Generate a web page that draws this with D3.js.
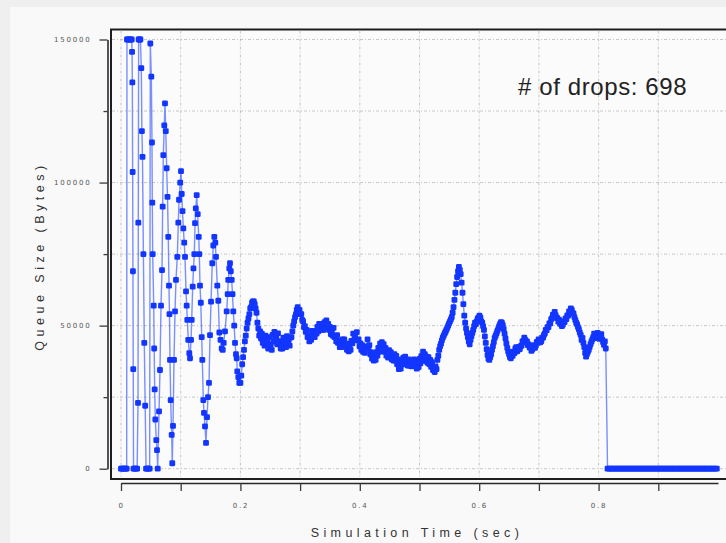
<!DOCTYPE html>
<html>
<head>
<meta charset="utf-8">
<script src="https://cdn.jsdelivr.net/npm/d3@7"></script>
<style>
body { margin: 0; background: #efefef; }
</style>
</head>
<body>
<div id="chart"></div>
<script>
// queue samples: time in ms, queue in thousands of bytes
var earlyTimeMs = [0,2,4,6,8,9.5, 10,12,14,16,18, 18.5,19,19.5,20,20.5, 21,23,25,27, 28.5,29, 29.5,31,32.5,
    34,35,36,37.5,39,40.5, 42,44,46,48,
    49.1,50.8,51.9,52.4,53.1,54.8,55.6,56.4,57.5,59.1,60.3,61.5,
    63.7,65.3,67,68.7,69.8,70.9,72.5,73.7,
    75,76.5,77.9,79.2,80.4,81.2,82.1,83.2,84.9,85.9,
    87.1,88.8,90.5,92.1,94.3,96,97.2,99.2,100.5,
    101.7,103,104.4,105.9,107.2,108.9,110,111.1,112.7,114.4,115.6,
    117.3,118.4,120.1,121.4,122.8,124,125.3,126.8,
    128.5,130.2,131.2,132.3,133.7,135.2,136.2,137.9,139,140.7,142.4,
    144.1,145.7,147.4,149.1,150.8,152.9,154.6,156.3,
    158,159.1,161.3,163,164.7,166.7,168.7,170.4,
    172,174.2,177,178.7,179.7,181.4,182.6,
    183.9,185.4,186.8,188.1,189.6,191,192.6,193.8,194.8,196.5,198.2];
var earlyQueueK = [0,0,0,0,0,0, 150,150,150,150,150, 145.7,135,103.7,69,34.8, 0,0,0,0, 23,86, 150,150,150,
    140,118,109,75,44,22, 0,0,0,0,
    148.6,137,114,93,75,57,42,27.7,17.2,10,6.5,0,
    20,34.5,57,69.4,91.6,109.6,120,127.7,
    118,105,95,81,64,54,38,24,11.8,1.9,
    15,38,55,66,74,86,94,100,104,
    96,90,84,79,74,62,57,52,45,40.4,38.6,
    45,52,63.6,70,75,85.8,91,95.6,
    89,81,75,64,58,46,38,24,19.5,14.8,9,
    18,25,30,46.7,58.4,71.8,78,81,
    79,74,64,58.7,47.6,45,42,41.5,
    44,48,55,61,66,70,71.8,
    69,66,61,55,50,44,40,38.6,34,32,30];

// from 0.2 s until the drop, one sample every 1.5 ms
var steadyStartMs = 200;
var steadyStepMs = 1.5;
var steadyQueueK = [30,32.5, 36.5,39, 41.5,44.5, 46.5,49, 51,52.5, 54,56, 56.5,58, 58.5,58.5, 57.5,56, 54.5,51,
    49,46.5, 48,45.5, 47.2,44, 46,43, 46.5,43.5, 44.5,42, 46,43, 43.5,41.5, 46.8,44.5, 47.8,45,
    45.5,43.5, 47.3,44.5, 44.5,42, 44,42, 45.8,43.5, 44.3,42.5, 46.3,44, 45,43, 45.8,46, 48,50,
    51.5,53, 54,55.5, 56.5,55, 55.5,54, 54,52, 51.5,49.5, 49.8,47.8, 48.5,46, 46.5,44.5, 46.2,45,
    48.2,46, 47.8,46, 48.2,47.2, 49.6,48, 50.6,48.8, 50.6,48.5, 49.6,48.5, 51.2,49.5, 51.8,49.5, 50.6,48.5,
    49.6,47, 48.2,46.5, 49.2,46, 46.2,44.5, 46.7,44, 44.7,42.5, 44.2,42.5, 45.2,43.3, 45.2,42.8, 43.2,41.5,
    43.7,41, 42.2,41.5, 44.7,43.8, 47.2,45, 46.7,45.2, 47.7,44.8, 45.2,42.8, 43.8,41.5, 43.2,40.8, 42.2,40.5,
    42.7,42, 45.2,42.3, 43.2,40, 40.7,38.5, 40.2,37.8, 39.4,38, 40.7,39.5, 42.2,40.8, 43.7,41.8, 44.2,41.8,
    43.5,40.8, 42.2,39.5, 40.7,38.8, 41.4,39, 40.7,38.2, 39.6,37.8, 40,37.8, 39.4,36.5, 37.7,34.8, 35.7,35,
    38.2,36.5, 38.8,37, 39.2,36.5, 38,36, 38.2,36, 37.7,35.8, 37.7,36, 38.2,35.8, 37.4,35, 36.7,35.5,
    38.4,36.8, 39.3,38, 40.9,38.5, 40,37.6, 39.2,37, 39,36.5, 38,35.6, 37.2,34.5, 35.7,33.8, 35.7,34.8,
    38,39.5, 41.5,42.8, 43.7,44.8, 45.8,46.5, 47.2,47.8, 48.5,49.2, 50,50.8, 51.5,52.2, 53,54.5, 56.5,59,
    61.5,64.5, 67,69, 70.5,69.5, 68,65, 61.5,57.5, 53.5,51, 49,47.5, 46,44.5, 43.5,45, 46.3,47.5,
    48.5,49.8, 51,50.5, 51.5,52.5, 52.8,53.5, 52.8,51.5, 51,49.8, 48.5,46.2, 44,41.8, 39.8,38.5, 38,39,
    40,41.5, 42.8,44.2, 45.7,46.5, 47.3,48.2, 49,49.8, 50.6,51.2, 51,50.2, 48.8,47.2, 45.5,43.8, 42.2,41,
    40,39, 38.6,39.8, 39.4,40.9, 40.4,42, 42.5,41, 41.5,42.6, 41.8,42.8, 43,44.5, 44.6,45.8, 45,44.2,
    44.5,43.2, 43.4,42.3, 42.6,41.2, 41.7,42.8, 43.2,42.2, 43.1,44.3, 44,45.2, 45,44.2, 44.6,45.8, 45.8,46.8,
    47.3,48.5, 48.4,49.5, 49.5,50.8, 50.8,52.2, 52.6,53.8, 53.6,54.8, 53.7,52.8, 52.6,51.4, 52,50.6, 51,49.8,
    50.3,51.5, 51.2,52.5, 52.3,53.6, 53.5,55, 54.8,56, 55.5,54.5, 54.2,53, 52,51, 50.4,49.5, 48.7,47.6,
    46.8,45, 45.7,44, 42.5,40.5, 39.2,40, 40.8,41.5, 42.5,43.5, 44.4,45.2, 46,47.2, 46.6,45.6, 46.5,47.5,
    46.6,45.4, 46.2,47, 45.2,44.2, 43.3,44.5, 42];

// after the drop the queue stays empty
var tailStartMs = 815;
var tailStepMs = 3;
var tailQueueK = [0,0,0,0,0,0,0,0,0,0, 0,0,0,0,0,0,0,0,0,0, 0,0,0,0,0,0,0,0,0,0,
    0,0,0,0,0,0,0,0,0,0, 0,0,0,0,0,0,0,0,0,0, 0,0,0,0,0,0,0,0,0,0, 0,0];

var yTickValues = [0, 25000, 50000, 75000, 100000, 125000, 150000];
var yLabelValues = [0, 50000, 100000, 150000];
var xTickValues = [0, 0.1, 0.2, 0.3, 0.4, 0.5, 0.6, 0.7, 0.8, 0.9];
var xLabelValues = [0, 0.2, 0.4, 0.6, 0.8];
var dropsText = "# of drops: 698";

function makeChart() {
    var width = 726, height = 543;
    var svg = d3.select("#chart").append("svg").attr("width", width).attr("height", height)
        .style("display", "block");

    svg.append("rect").attr("width", width).attr("height", height).attr("fill", "#efefef");
    svg.append("rect").attr("x", 10).attr("y", 7).attr("width", width - 10).attr("height", height - 7)
        .attr("fill", "#f9f9f9");

    var x = d3.scaleLinear().domain([0, 1]).range([121, 718]);
    var y = d3.scaleLinear().domain([0, 150000]).range([468.7, 39.5]);

    // frame
    svg.append("rect").attr("x", 111).attr("y", 29.5).attr("width", 640).attr("height", 449.5)
        .attr("fill", "#fbfbfb").attr("stroke", "#1e1e1e").attr("stroke-width", 2);

    // dashed grid
    var grid = svg.append("g").attr("stroke", "#b9b9b9").attr("stroke-width", 0.8)
        .attr("stroke-dasharray", "3,2,1,2");
    grid.selectAll(".gx").data(xTickValues).enter().append("line")
        .attr("x1", function(d) { return x(d); }).attr("x2", function(d) { return x(d); })
        .attr("y1", 30.5).attr("y2", 477.5);
    grid.selectAll(".gy").data(yTickValues).enter().append("line")
        .attr("y1", function(d) { return y(d); }).attr("y2", function(d) { return y(d); })
        .attr("x1", 112).attr("x2", 726);

    var isIn = function(list, v) {
        return list.some(function(a) { return Math.abs(a - v) < 1e-9; });
    };

    // y axis
    var yAxis = svg.append("g").attr("transform", "translate(107.5,0)")
        .call(d3.axisLeft(y).tickValues(yTickValues).tickSize(8).tickSizeOuter(0).tickPadding(8)
            .tickFormat(function(d) { return isIn(yLabelValues, d) ? d : ""; }));
    yAxis.selectAll(".tick line").attr("x2", function(d) { return isIn(yLabelValues, d) ? -8 : -4; });

    // x axis
    var xAxis = svg.append("g").attr("transform", "translate(0,483)")
        .call(d3.axisBottom(x).tickValues(xTickValues).tickSize(8).tickSizeOuter(0).tickPadding(12)
            .tickFormat(function(d) { return isIn(xLabelValues, d) ? String(d) : ""; }));

    [yAxis, xAxis].forEach(function(a) {
        a.select(".domain").attr("stroke", "#2a2a2a").attr("stroke-width", 1.6);
        a.selectAll(".tick line").attr("stroke", "#3a3a3a").attr("stroke-width", 1.3);
        a.selectAll("text").attr("fill", "#555").style("font-family", "DejaVu Sans, sans-serif")
            .style("font-size", "7px").style("letter-spacing", "1.8px");
    });

    // axis titles
    svg.append("text").attr("x", 417).attr("y", 537).attr("text-anchor", "middle")
        .style("font-family", "Liberation Sans, Arial, sans-serif").style("font-size", "12.5px")
        .style("letter-spacing", "4.4px").attr("fill", "#333")
        .text("Simulation Time (sec)");
    svg.append("text").attr("transform", "translate(44,256) rotate(-90)").attr("text-anchor", "middle")
        .style("font-family", "Liberation Sans, Arial, sans-serif").style("font-size", "12.5px")
        .style("letter-spacing", "4.5px").attr("fill", "#333")
        .text("Queue Size (Bytes)");

    // series
    var stepped = function(startMs, stepMs, values) {
        return values.map(function(q, i) {
            return { t: (startMs + i * stepMs) / 1000, q: q * 1000 };
        });
    };
    var points = earlyTimeMs.map(function(t, i) {
        return { t: t / 1000, q: earlyQueueK[i] * 1000 };
    }).concat(stepped(steadyStartMs, steadyStepMs, steadyQueueK))
      .concat(stepped(tailStartMs, tailStepMs, tailQueueK));

    var line = d3.line().x(function(d) { return x(d.t); }).y(function(d) { return y(d.q); });
    svg.append("path").datum(points).attr("d", line).attr("fill", "none")
        .attr("stroke", "#3355ff").attr("stroke-opacity", 0.65).attr("stroke-width", 1.4);

    svg.append("g").selectAll("rect").data(points).enter().append("rect")
        .attr("x", function(d) { return x(d.t) - 2.9; })
        .attr("y", function(d) { return y(d.q) - 2.9; })
        .attr("width", 5.8).attr("height", 5.8).attr("rx", 1.3)
        .attr("fill", "#1236ff");

    svg.append("text").attr("x", 518).attr("y", 95)
        .style("font-family", "Liberation Sans, Arial, sans-serif").style("font-size", "24px")
        .style("letter-spacing", "0.6px").attr("fill", "#222")
        .text(dropsText);
}
makeChart();
</script>
</body>
</html>
